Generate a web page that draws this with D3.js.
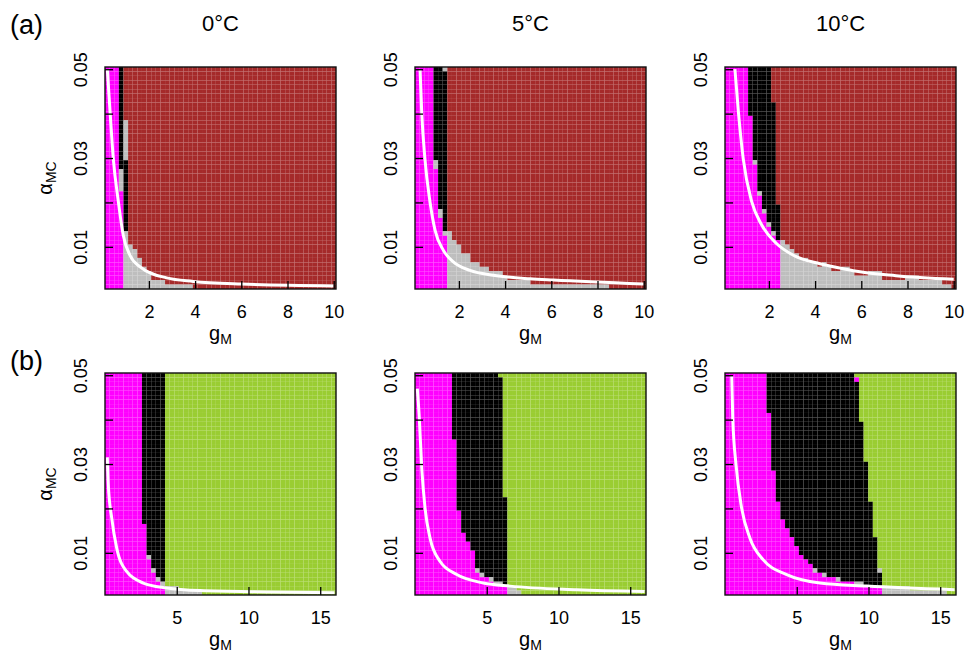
<!DOCTYPE html>
<html>
<head>
<meta charset="utf-8">
<script src="https://cdn.jsdelivr.net/npm/d3@7"></script>
<style>
body { margin: 0; background: #fff; }
text { font-family: "Liberation Sans", Arial, sans-serif; fill: #000; }
</style>
</head>
<body>
<script>
// Canvas setup
const canvasWidth = 970;
const canvasHeight = 655;

const svg = d3.select('body')
    .append('svg')
    .attr('width', canvasWidth)
    .attr('height', canvasHeight);

// ---- data ----
const temps = ["0°C", "5°C", "10°C"];
const rowLabels = ["(a)", "(b)"];
const alphaTicks = [0.01, 0.02, 0.03, 0.04, 0.05];
const alphaTickLabels = ["0.01", "", "0.03", "", "0.05"];
const gTicksA = [2, 4, 6, 8, 10];
const gTicksB = [5, 10, 15];

// 50 x 50 parameter grid (cell edges)
const nCells = 50;
const gRangeA = [0.1, 10.1];
const gRangeB = [0, 16.1];
const alphaRange = [0.0005, 0.0505];

// regimes: M magenta, K black, G grey, R brown, Y yellowgreen
const regimeColor = {M: "#ff00ff", K: "#000000", G: "#bebebe", R: "#a52a2a", Y: "#9acd32"};

// rows from top (alpha = 0.05) to bottom: [number of rows, runs]; rest of row = background
const rowsA0 = [
    [12, "3M 1K"], [9, "3M 1K 1G"], [2, "3M 2K"], [5, "3M 1G 1K"], [9, "4M 1K"],
    [3, "4M 1G"], [1, "4M 2G"], [2, "4M 3G"], [2, "4M 4G"], [1, "4M 5G"],
    [2, "4M 6G"], [1, "4M 9G"], [1, "4M 15G"]
];
const rowsA1 = [
    [1, "4M 2K 1G"], [20, "4M 3K"], [2, "4M 1G 2K"], [9, "5M 2K"], [2, "5M 1G 1K"],
    [3, "6M 1K"], [1, "6M 2G"], [1, "7M 1G"], [1, "7M 2G"], [2, "7M 3G"],
    [2, "7M 5G"], [1, "7M 7G"], [1, "7M 9G"], [1, "7M 12G"], [1, "7M 13G"],
    [1, "7M 18G"], [1, "7M 35G"]
];
const rowsA2 = [
    [8, "5M 5K"], [3, "5M 6K"], [10, "6M 5K"], [1, "6M 1G 4K"], [6, "7M 4K"],
    [1, "7M 1G 3K"], [2, "8M 3K"], [1, "8M 4K"], [1, "8M 1G 3K"], [2, "9M 3K"],
    [1, "9M 1G 2K"], [1, "10M 2K"], [1, "10M 1G 1K"], [1, "11M 1K"],
    [1, "12M 1G"], [1, "12M 2G"], [1, "12M 3G"], [1, "12M 4G"], [1, "12M 6G"],
    [1, "12M 8G 1R 1G"], [1, "12M 11G 2R 2G"], [1, "12M 16G 3R 3G"],
    [1, "12M 22G 5R 3G"], [1, "12M 35G 2R"], [1, "12M 37G"]
];
const rowsB0 = [
    [34, "8M 5K"], [7, "9M 4K"], [1, "9M 1G 3K"], [2, "10M 3K"], [1, "10M 1G 2K"],
    [1, "11M 2K"], [1, "11M 1G 1K"], [1, "12M 1G"], [1, "13M 3G"], [1, "13M 8G"]
];
const rowsB1 = [
    [1, "8M 10K"], [14, "8M 11K"], [13, "9M 10K"], [3, "9M 11K"], [5, "10M 10K"],
    [2, "11M 9K"], [2, "12M 8K"], [4, "13M 7K"], [1, "13M 1G 6K"], [1, "14M 1G 5K"],
    [1, "16M 1G 3K"], [1, "17M 2G 1K"], [1, "20M 2G"], [1, "20M 3G"]
];
const rowsB2 = [
    [1, "9M 19K"], [1, "9M 19K 1M"], [7, "9M 20K"], [2, "10M 19K"], [9, "10M 20K"],
    [2, "10M 21K"], [7, "11M 20K"], [4, "12M 20K"], [2, "13M 19K"], [2, "14M 18K"],
    [2, "15M 18K"], [2, "16M 17K"], [1, "17M 16K"], [1, "18M 15K"], [1, "19M 14K"],
    [1, "19M 1G 13K 1G"], [1, "21M 1G 12K"], [1, "24M 1G 9K"], [1, "28M 2G 4K"],
    [1, "34M 6G"], [1, "34M 14G"]
];

// white threshold curves [g_M, alpha_MC]
const curveA0 = [[0.2, 0.0500], [0.32, 0.0404], [0.46, 0.0298], [0.68, 0.0201], [0.89, 0.0126],
    [1.18, 0.0081], [1.62, 0.0055], [2.77, 0.0030], [3.92, 0.0022], [6.0, 0.0016], [10.0, 0.0012]];
const curveA1 = [[0.32, 0.0498], [0.39, 0.0404], [0.53, 0.0298], [0.75, 0.0201], [0.97, 0.0137],
    [1.33, 0.0092], [1.76, 0.0066], [2.48, 0.0047], [3.49, 0.0036], [5.08, 0.0028], [6.09, 0.0025], [10.0, 0.0016]];
const curveA2 = [[0.53, 0.0500], [0.68, 0.0404], [0.89, 0.0298], [1.26, 0.0201], [1.69, 0.0149],
    [2.34, 0.0107], [3.06, 0.0081], [4.21, 0.0062], [5.08, 0.0052], [5.65, 0.0046], [7.5, 0.0035], [10.0, 0.0027]];
const curveB0 = [[0.16, 0.0315], [0.23, 0.0253], [0.47, 0.0178], [0.82, 0.0110], [1.51, 0.0058],
    [2.67, 0.0032], [4.30, 0.0021], [6.62, 0.0015], [11.27, 0.0012], [16.0, 0.0010]];
const curveB1 = [[0.16, 0.0470], [0.30, 0.0404], [0.47, 0.0291], [0.70, 0.0201], [1.05, 0.0133],
    [1.74, 0.0081], [2.91, 0.0051], [4.76, 0.0032], [6.62, 0.0025], [11.27, 0.0017], [16.0, 0.0013]];
const curveB2 = [[0.47, 0.0498], [0.54, 0.0404], [0.77, 0.0298], [1.16, 0.0201], [1.74, 0.0133],
    [2.67, 0.0084], [4.30, 0.0051], [6.62, 0.0032], [9.88, 0.0025], [16.0, 0.0017]];

// ---- layout ----
const panelLeft = [105, 415, 725];
const panelTop = [67, 373];
const pw = 231, ph = 222;

const panels = [
    {r: 0, c: 0, rows: rowsA0, curve: curveA0, bg: "R"},
    {r: 0, c: 1, rows: rowsA1, curve: curveA1, bg: "R"},
    {r: 0, c: 2, rows: rowsA2, curve: curveA2, bg: "R"},
    {r: 1, c: 0, rows: rowsB0, curve: curveB0, bg: "Y"},
    {r: 1, c: 1, rows: rowsB1, curve: curveB1, bg: "Y"},
    {r: 1, c: 2, rows: rowsB2, curve: curveB2, bg: "Y"}
];

function expandRows(spec, bg) {
    let out = [];
    spec.forEach(([n, code]) => {
        let cats = [];
        code.split(' ').forEach(s => {
            let k = +s.slice(0, -1), cat = s.slice(-1);
            for (let i = 0; i < k; i++) cats.push(cat);
        });
        while (cats.length < nCells) cats.push(bg);
        for (let i = 0; i < n; i++) out.push(cats);
    });
    return out;
}

function drawSubscriptLabel(g, x, y, main, sub, rotate) {
    let t = g.append('text')
        .attr('text-anchor', 'middle')
        .attr('transform', `translate(${x},${y})` + (rotate ? ' rotate(-90)' : ''))
        .style('font-size', '20px');
    t.append('tspan').text(main);
    t.append('tspan').attr('dy', 4).style('font-size', '14px').text(sub);
}

panels.forEach((p, idx) => {
    let gRange = p.r === 0 ? gRangeA : gRangeB;
    let gTicks = p.r === 0 ? gTicksA : gTicksB;

    let xScale = d3.scaleLinear().domain(gRange).range([0, pw]);
    let yScale = d3.scaleLinear().domain(alphaRange).range([ph, 0]);

    let plot = svg.append('g')
        .attr('transform', `translate(${panelLeft[p.c]},${panelTop[p.r]})`);

    // cells
    let gStep = (gRange[1] - gRange[0]) / nCells;
    let aStep = (alphaRange[1] - alphaRange[0]) / nCells;
    let grid = expandRows(p.rows, p.bg);
    let cells = [];
    grid.forEach((cats, ri) => {
        cats.forEach((cat, ci) => {
            cells.push({
                g0: gRange[0] + ci * gStep,
                a1: alphaRange[1] - ri * aStep,
                cat: cat
            });
        });
    });
    plot.append('g').selectAll('rect').data(cells).enter().append('rect')
        .attr('x', d => xScale(d.g0))
        .attr('y', d => yScale(d.a1))
        .attr('width', d => xScale(d.g0 + gStep) - xScale(d.g0))
        .attr('height', d => yScale(d.a1 - aStep) - yScale(d.a1))
        .attr('fill', d => regimeColor[d.cat]);

    // threshold curve
    let clipId = 'clip' + idx;
    plot.append('clipPath').attr('id', clipId)
        .append('rect').attr('width', pw).attr('height', ph);
    let line = d3.line()
        .x(d => xScale(d[0]))
        .y(d => yScale(d[1]))
        .curve(d3.curveMonotoneX);
    plot.append('path')
        .attr('clip-path', `url(#${clipId})`)
        .attr('d', line(p.curve))
        .attr('fill', 'none')
        .attr('stroke', '#fff')
        .attr('stroke-width', 3);

    // axes, ticks pointing inward
    let yAxis = d3.axisLeft(yScale).tickValues(alphaTicks).tickSize(-8)
        .tickFormat((d, i) => alphaTickLabels[i]);
    plot.append('g').call(yAxis).call(a => {
        a.select('.domain').remove();
        a.selectAll('line').attr('stroke', '#000').attr('stroke-width', 1.3);
        a.selectAll('text')
            .attr('x', 0).attr('y', -18).attr('dy', null)
            .attr('text-anchor', 'middle')
            .attr('transform', 'rotate(-90)')
            .style('font-size', '18px');
    });

    let xAxis = d3.axisBottom(xScale).tickValues(gTicks).tickSize(-8);
    plot.append('g').attr('transform', `translate(0,${ph})`).call(xAxis).call(a => {
        a.select('.domain').remove();
        a.selectAll('line').attr('stroke', '#000').attr('stroke-width', 1.3);
        a.selectAll('text').attr('y', 29).attr('dy', null)
            .style('font-size', '18px');
    });

    // frame
    plot.append('rect')
        .attr('width', pw).attr('height', ph)
        .attr('fill', 'none').attr('stroke', '#111').attr('stroke-width', 1.4);

    // labels
    drawSubscriptLabel(plot, pw / 2, ph + 51, 'g', 'M', false);
    if (p.c === 0) {
        drawSubscriptLabel(plot, -53, ph / 2, 'α', 'MC', true);
    }
    if (p.r === 0) {
        plot.append('text')
            .attr('x', pw / 2).attr('y', -36)
            .attr('text-anchor', 'middle')
            .style('font-size', '22px')
            .text(temps[p.c]);
    }
    if (p.c === 0) {
        plot.append('text')
            .attr('x', -95).attr('y', p.r === 0 ? -33 : -3)
            .style('font-size', '27px')
            .text(rowLabels[p.r]);
    }
});
</script>
</body>
</html>
